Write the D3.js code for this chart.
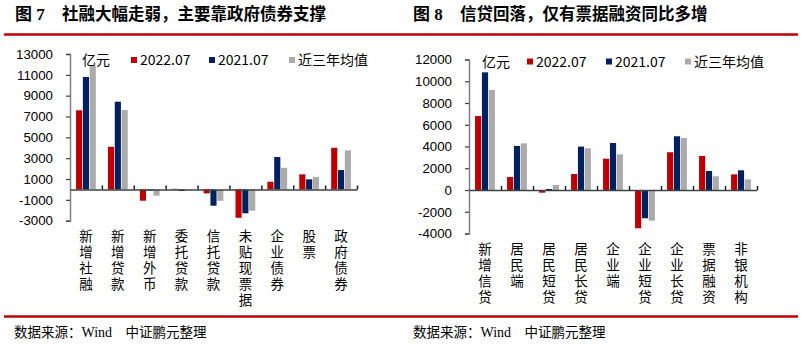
<!DOCTYPE html>
<html><head><meta charset="utf-8">
<script src="https://cdn.jsdelivr.net/npm/d3@7"></script>
<style>
html,body{margin:0;padding:0;background:#fff;}
svg{display:block;}
</style></head>
<body>
<svg id="c" width="802" height="344"></svg>
<script>
// ---------- data ----------
const seriesNames = ["2022.07", "2021.07", "近三年均值"];
const seriesColors = ["#C00000", "#002060", "#ABABAB"];

const leftCategories = ["新增社融","新增贷款","新增外币","委托贷款","信托贷款","未贴现票据","企业债券","股票","政府债券"];
const left2022 = [7600, 4100, -1080, 60, -380, -2720, 740, 1450, 4000];
const left2021 = [10800, 8420, -100, -150, -1560, -2290, 3110, 970, 1860];
const leftAvg  = [11850, 7620, -600, -20, -1090, -2040, 2080, 1190, 3750];
const leftTicks = [13000, 11000, 9000, 7000, 5000, 3000, 1000, -1000, -3000];

const rightCategories = ["新增信贷","居民端","居民短贷","居民长贷","企业端","企业短贷","企业长贷","票据融资","非银机构"];
const right2022 = [6800, 1200, -250, 1470, 2880, -3520, 3470, 3130, 1440];
const right2021 = [10820, 4050, 90, 3990, 4320, -2600, 4940, 1750, 1810];
const rightAvg  = [9200, 4290, 460, 3830, 3280, -2820, 4780, 1260, 980];
const rightTicks = [12000, 10000, 8000, 6000, 4000, 2000, 0, -2000, -4000];

const leftTitleNo = "图 7", leftTitle = "社融大幅走弱，主要靠政府债券支撑";
const rightTitleNo = "图 8", rightTitle = "信贷回落，仅有票据融资同比多增";
const unitLabel = "亿元";
const sourceText = ["数据来源：", "Wind", "　中证鹏元整理"];

// ---------- drawing ----------
const svg = d3.select("#c");
const CJK = "'Noto Sans CJK SC','Noto Sans',sans-serif";
const RED = "#C00000";

svg.append("line").attr("x1",4).attr("x2",798).attr("y1",34.5).attr("y2",34.5)
  .attr("stroke",RED).attr("stroke-width",2.5);
svg.append("line").attr("x1",4).attr("x2",798).attr("y1",316.5).attr("y2",316.5)
  .attr("stroke",RED).attr("stroke-width",2.5);

function panel(cfg){
  const g = svg.append("g");
  g.append("text").attr("x",cfg.titleX).attr("y",20)
    .attr("font-family","'Liberation Serif','Noto Sans CJK SC',serif").attr("font-weight","bold")
    .attr("font-size",17).text(cfg.titleNo);
  g.append("text").attr("x",cfg.titleX2).attr("y",20)
    .attr("font-family",CJK).attr("font-weight","bold")
    .attr("font-size",16.5).text(cfg.title);

  const y = d3.scaleLinear().domain(cfg.domain).range([cfg.yBottom, cfg.yTop]);
  const x = d3.scaleBand().domain(cfg.categories).range([cfg.x0, cfg.x1]).paddingInner(0.38).paddingOuter(0.19);
  const xs = d3.scaleBand().domain(seriesNames).range([0, x.bandwidth()]).paddingInner(0.1);

  const ya = g.append("g").attr("transform",`translate(${cfg.x0},0)`)
    .call(d3.axisLeft(y).tickValues(cfg.ticks).tickSize(4).tickPadding(13).tickFormat(d=>String(d)));
  ya.select(".domain").attr("stroke","#808080").attr("stroke-width",1.5);
  ya.selectAll(".tick line").attr("stroke","#404040").attr("stroke-width",1.2);
  ya.selectAll(".tick text").attr("font-family","'Liberation Sans',Arial,sans-serif")
    .attr("font-size",13.3).attr("fill","#000");

  cfg.series.forEach((vals, si) => {
    g.append("g").selectAll("rect").data(vals).join("rect")
      .attr("x",(d,i)=> x(cfg.categories[i]) + xs(seriesNames[si]))
      .attr("width", xs.bandwidth())
      .attr("y", d => y(Math.max(0,d)))
      .attr("height", d => Math.abs(y(d) - y(0)))
      .attr("fill", seriesColors[si]);
  });

  const xi = d3.scaleLinear().domain([0, cfg.categories.length]).range([cfg.x0, cfg.x1]);
  const za = g.append("g").attr("transform",`translate(0,${y(0)})`)
    .call(d3.axisBottom(xi).tickValues(d3.range(1, cfg.categories.length+1)).tickSize(-4).tickSizeOuter(0).tickFormat(""));
  za.select(".domain").attr("stroke","#404040").attr("stroke-width",1.5);
  za.selectAll(".tick line").attr("stroke","#202020").attr("stroke-width",1.5);

  // category labels: one character per line
  const lab = g.append("g");
  cfg.categories.forEach(c => {
    const t = lab.append("text").attr("font-family",CJK).attr("font-size",13.5)
      .attr("text-anchor","middle").attr("fill","#000");
    Array.from(c).forEach((ch, k) => {
      t.append("tspan").attr("x", x(c) + x.bandwidth()/2)
        .attr("y", cfg.yBottom + 20.5 + k*16).text(ch);
    });
  });

  const lg = g.append("g").attr("font-family",CJK).attr("font-size",14).attr("fill","#000");
  lg.append("text").attr("x",cfg.legend[0]).attr("y",cfg.legendY+5).text(unitLabel);
  seriesNames.forEach((s,i)=>{
    const lx = cfg.legend[i+1];
    lg.append("rect").attr("x",lx).attr("y",cfg.legendY-3).attr("width",6).attr("height",6)
      .attr("fill",seriesColors[i]);
    lg.append("text").attr("x",lx+9).attr("y",cfg.legendY+5).text(s);
  });

  const ft = g.append("text").attr("x",cfg.footX).attr("y",337).attr("font-size",13.5).attr("fill","#000");
  ft.append("tspan").attr("font-family",CJK).text(sourceText[0]);
  ft.append("tspan").attr("font-family","'Liberation Serif',serif").attr("font-size",14).text(sourceText[1]);
  ft.append("tspan").attr("font-family",CJK).text(sourceText[2]);
}

panel({
  titleNo:leftTitleNo, title:leftTitle, titleX:15, titleX2:62,
  categories:leftCategories, series:[left2022,left2021,leftAvg], ticks:leftTicks,
  domain:[-3000,13000], yTop:54, yBottom:220.7, x0:70, x1:357,
  legend:[82,131,209,289], legendY:60, footX:14
});
panel({
  titleNo:rightTitleNo, title:rightTitle, titleX:413, titleX2:460,
  categories:rightCategories, series:[right2022,right2021,rightAvg], ticks:rightTicks,
  domain:[-4000,12000], yTop:59.5, yBottom:233.5, x0:469, x1:757,
  legend:[482,527,606,685], legendY:61.5, footX:413
});
</script>
</body></html>
